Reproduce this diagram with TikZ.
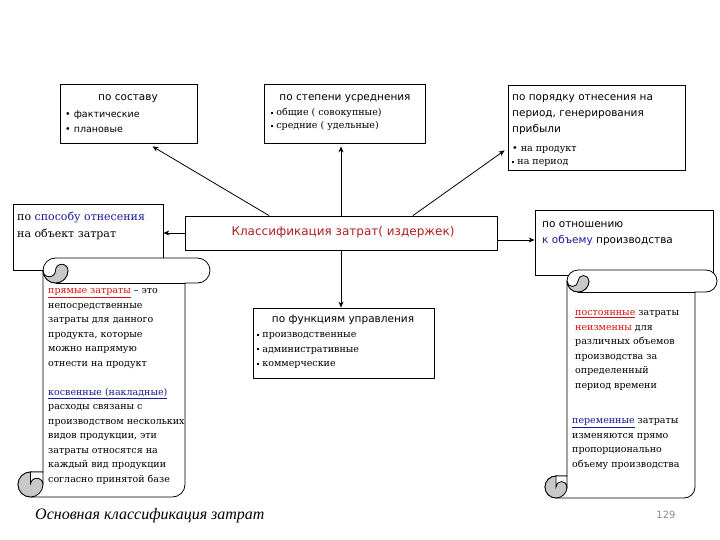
\documentclass[tikz,border=0pt]{standalone}
\usepackage{fontspec}
\setmainfont{DejaVu Serif}
\setsansfont{DejaVu Sans}
\newfontfamily\footfont{Liberation Serif}
\usetikzlibrary{arrows.meta,calc}
\definecolor{tred}{RGB}{175,30,30}
\definecolor{tblue}{RGB}{25,25,150}
\definecolor{ured}{RGB}{215,20,20}
\definecolor{curl}{RGB}{200,200,200}
\newcommand\sbul{\rule[0.35ex]{2.2pt}{2.2pt}\ }
\newcommand\myscroll[5]{%
  \pgfmathsetmacro\scA{#5}\pgfmathsetmacro\scH{#5/2}\pgfmathsetmacro\scQ{#5/4}%
  \filldraw[scrl,fill=white] (#1+\scA,#2+\scH) arc[start angle=180,end angle=270,radius=\scH]
    -- (#3-\scH,#2) arc[start angle=270,end angle=450,radius=\scH]
    -- (#3-\scA,#2+\scA) -- (#3-\scA,#4-\scH) arc[start angle=0,end angle=90,radius=\scH]
    -- (#1+\scH,#4) arc[start angle=90,end angle=270,radius=\scH]
    -- (#1+\scA,#4-\scA) -- cycle;
  \draw[scrl] (#1+\scA+\scH,#2+\scA) -- (#3-\scA,#2+\scA);
  \draw[scrl] (#1+\scA,#2+\scH) arc[start angle=180,end angle=0,radius=\scH];
  \filldraw[scrl,fill=curl] (#1+\scA,#2+\scH) arc[start angle=180,end angle=0,radius=\scH]
    arc[start angle=0,end angle=-180,radius=\scQ] arc[start angle=0,end angle=180,radius=\scQ];
  \filldraw[scrl,fill=curl] (#1+\scH,#4-\scH) circle[radius=\scH];
  \filldraw[scrl,fill=white] (#1+\scH,#4-\scA) -- (#1+\scA,#4-\scA) -- (#1+\scA,#4-\scH)
    arc[start angle=0,end angle=-180,radius=\scQ] -- cycle;
}
\begin{document}
\begin{tikzpicture}[x=1pt,y=-1pt,
  box/.style={draw,line width=0.8pt,fill=white,inner sep=0},
  conn/.style={line width=0.8pt,-{Stealth[length=6pt,width=5pt]}},
  scrl/.style={line width=0.8pt},
  hdr/.style={font=\sffamily\fontsize{10.5}{16}\selectfont,inner sep=0},
  bl/.style={font=\sffamily\fontsize{9.5}{14}\selectfont,inner sep=0,anchor=base west},
  sb/.style={font=\fontsize{9.5}{14}\selectfont,inner sep=0,anchor=base west},
  scr/.style={font=\fontsize{9.5}{14.5}\selectfont,inner sep=0,align=left,anchor=north west}]
\useasboundingbox[fill=white] (0,0) rectangle (720,540);

% boxes
\node[box,minimum width=137pt,minimum height=59pt] (b1) at (128.5,113.5) {};
\node[box,minimum width=161pt,minimum height=59pt] (b2) at (344.5,113.5) {};
\node[box,minimum width=177pt,minimum height=85pt] (b3) at (596.5,127.5) {};
\node[box,minimum width=150pt,minimum height=66pt] (b4) at (88,237) {};
\node[box,minimum width=178pt,minimum height=65pt] (b6) at (624,242.5) {};
\node[box,minimum width=312pt,minimum height=34pt] (c) at (341,233) {};
\node[box,minimum width=181pt,minimum height=70pt] (b5) at (343.5,343) {};

% connectors
\coordinate (ce) at ($(c.east)+(0,7)$);
\draw[conn] ($(c.north west)!0.27!(c.north east)$) -- ([xshift=24pt,yshift=-3pt]b1.south);
\draw[conn] (c.north) -- ([yshift=-3pt]c.north |- b2.south);
\draw[conn] ($(c.north west)!0.73!(c.north east)$) -- ([xshift=-3pt,yshift=20pt]b3.south west);
\draw[conn] (c.west) -- (c.west -| b4.east);
\draw[conn] (ce) -- (ce -| b6.west);
\draw[conn] (c.south) -- (c.south |- b5.north);

% box texts
\node[hdr,anchor=base] (t1) at (128,100.5) {по составу};
\node[bl] (t1a) at (65,117.5) {•\ фактические};
\node[bl] (t1b) at (65,132.5) {•\ плановые};

\node[hdr,anchor=base] (t2) at (345,100.5) {по степени усреднения};
\node[sb] (t2a) at (271,116) {\sbul общие ( совокупные)};
\node[sb] (t2b) at (271,129) {\sbul средние ( удельные)};

\node[hdr,anchor=north west,align=left] (t3) at (512,89.3) {\strut по порядку отнесения на\\период, генерирования\\прибыли};
\node[sb] (t3a) at (512,151.5) {•\ на продукт};
\node[sb] (t3b) at (512,164.5) {\sbul на период};

\node[font=\fontsize{11}{16}\selectfont,inner sep=0,anchor=base west] (t4a) at (17,220.5) {по \textcolor{tblue}{способу отнесения}};
\node[font=\fontsize{11}{16}\selectfont,inner sep=0,anchor=base west] (t4b) at (17,237) {на объект затрат};

\node[font=\sffamily\fontsize{12}{14}\selectfont,text=tred,inner sep=0] (ct) at (343,232) {Классификация затрат( издержек)};

\node[font=\sffamily\fontsize{10.5}{16}\selectfont,inner sep=0,anchor=base west] (t6a) at (542,227.5) {по отношению};
\node[font=\sffamily\fontsize{10.5}{16}\selectfont,inner sep=0,anchor=base west] (t6b) at (542,243.5) {\textcolor{tblue}{к объему} производства};

\node[hdr,anchor=base] (t5) at (343,322.5) {по функциям управления};
\node[sb] (t5a) at (257,337.5) {\sbul производственные};
\node[sb] (t5b) at (257,352) {\sbul административные};
\node[sb] (t5c) at (257,366.5) {\sbul коммерческие};

% scrolls
\myscroll{18}{258}{210}{497}{25}
\myscroll{545}{270}{717}{498}{22}

\node[scr] (s1) at (48,283.4) {\strut\textcolor{ured}{\underline{прямые затраты}} – это\\
непосредственные\\затраты для данного\\продукта, которые\\можно напрямую\\отнести на продукт\\
\\
\textcolor{tblue}{\underline{косвенные (накладные)}}\\расходы связаны с\\производством нескольких\\видов продукции, эти\\
затраты относятся на\\каждый вид продукции\\согласно принятой базе};

\node[scr] (s2) at (575,305.4) {\strut\textcolor{ured}{\underline{постоянные}} затраты\\
\textcolor{ured}{неизменны} для\\различных объемов\\производства за\\определенный\\период времени};

\node[scr] (s3) at (572,413.4) {\strut\textcolor{tblue}{\underline{переменные}} затраты\\
изменяются прямо\\пропорционально\\объему производства};

% footer
\node[font=\footfont\itshape\fontsize{16}{18}\selectfont,inner sep=0,anchor=base west] (foot) at (35,519) {Основная классификация затрат};
\node[font=\sffamily\fontsize{10}{12}\selectfont,text=black!45,inner sep=0,anchor=base] (pg) at (666,518) {129};
\end{tikzpicture}
\end{document}
